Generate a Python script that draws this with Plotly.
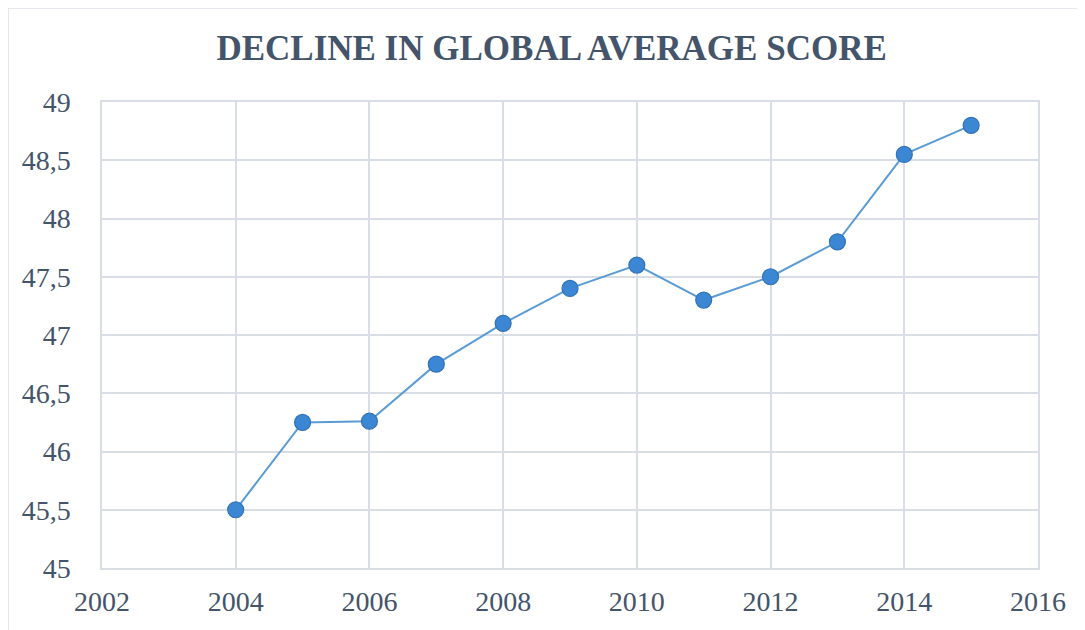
import plotly.graph_objects as go

years = [2004, 2005, 2006, 2007, 2008, 2009, 2010, 2011, 2012, 2013, 2014, 2015]
scores = [45.5, 46.25, 46.26, 46.75, 47.1, 47.4, 47.6, 47.3, 47.5, 47.8, 48.55, 48.8]

x_ticks = [2002, 2004, 2006, 2008, 2010, 2012, 2014, 2016]
y_ticks = [45, 45.5, 46, 46.5, 47, 47.5, 48, 48.5, 49]
y_labels = ["45", "45,5", "46", "46,5", "47", "47,5", "48", "48,5", "49"]

text_color = "#44546A"
grid_color = "#D9DEE6"

fig = go.Figure()
fig.add_trace(go.Scatter(
    x=years, y=scores, mode="lines+markers",
    line=dict(color="#5B9BD5", width=2),
    marker=dict(size=16, color="#3B87D4", line=dict(color="#3272B5", width=1.2)),
    hoverinfo="x+y",
))

fig.update_layout(
    width=1085, height=630,
    margin=dict(l=94, r=55, t=94, b=70),
    paper_bgcolor="white", plot_bgcolor="white",
    showlegend=False,
    title=dict(text="<b>DECLINE IN GLOBAL AVERAGE SCORE</b>",
               x=0.501, xanchor="center", y=0.937, yanchor="middle",
               font=dict(family="Liberation Serif", size=35, color=text_color)),
    font=dict(family="Liberation Serif", size=28, color=text_color),
)

fig.update_xaxes(
    range=[2002, 2016], tickvals=x_ticks, showgrid=True, gridcolor=grid_color,
    gridwidth=1.5, zeroline=False, showline=True, linecolor=grid_color, linewidth=1.5,
    mirror=True, ticks="outside", ticklen=8, tickcolor="rgba(0,0,0,0)",
    automargin=False,
    tickfont=dict(family="Liberation Serif", size=28, color=text_color),
)
fig.update_yaxes(
    range=[45, 49], tickvals=y_ticks, ticktext=y_labels, showgrid=True,
    gridcolor=grid_color, gridwidth=1.5, zeroline=False, showline=True,
    linecolor=grid_color, linewidth=1.5, mirror=True, ticks="outside",
    ticklen=24, tickcolor="rgba(0,0,0,0)", automargin=False,
    tickfont=dict(family="Liberation Serif", size=28, color=text_color),
)

# outer chart border (clipped by the picture at right and bottom)
fig.add_shape(type="rect", xref="paper", yref="paper",
              x0=(0 - 94) / 936, x1=(1100 - 94) / 936,
              y0=-(650 - 560) / 466, y1=1 + 94 / 466,
              line=dict(color="#DDE2EA", width=1.5), layer="below")

fig.write_html("out.html")
